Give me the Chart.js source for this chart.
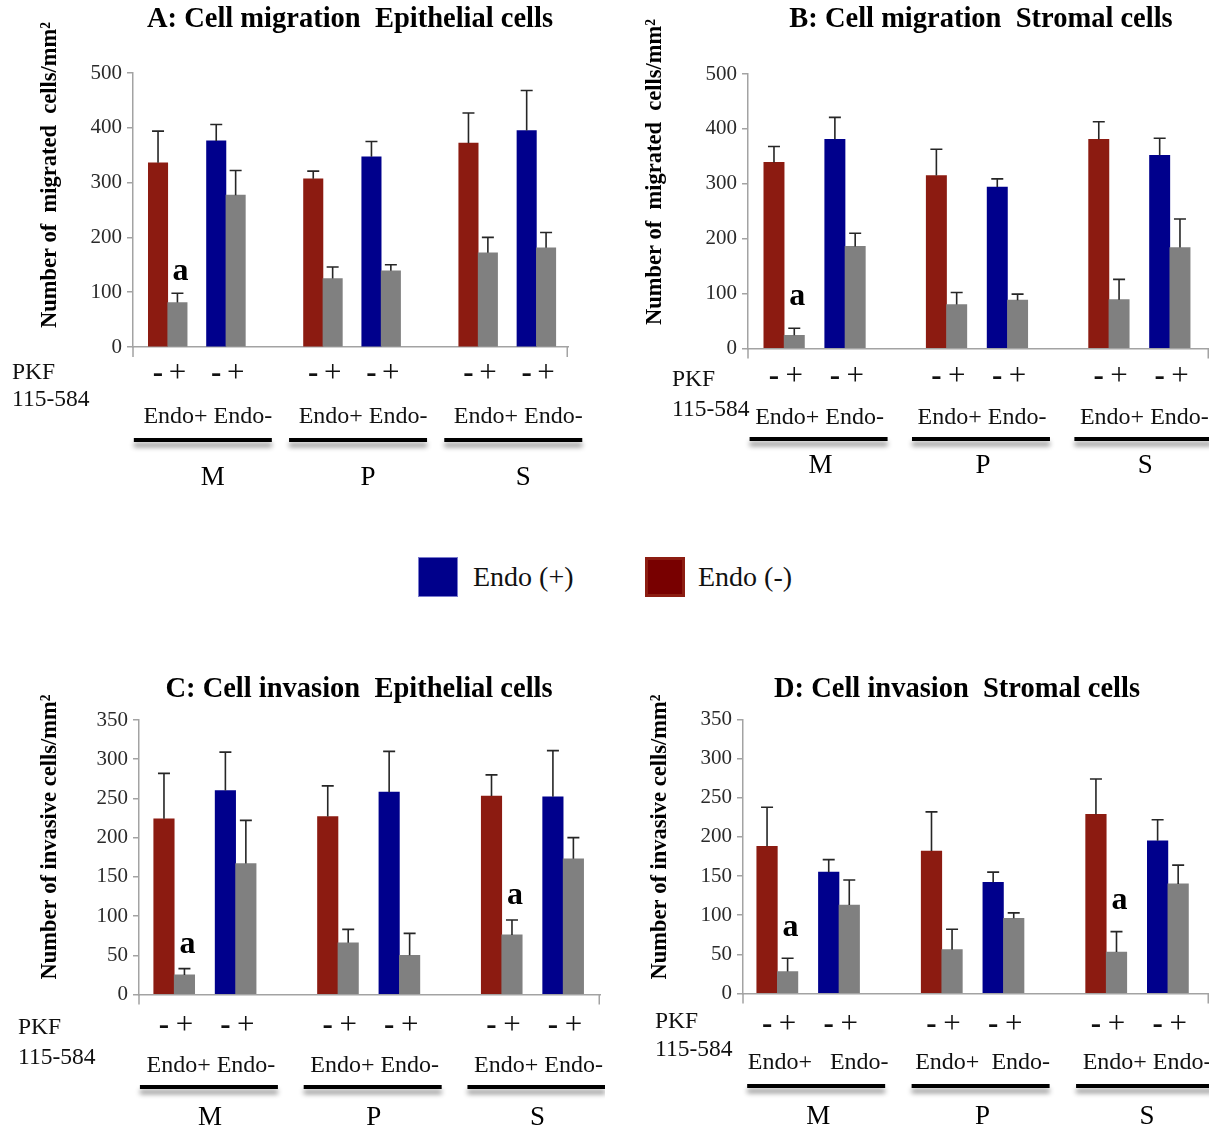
<!DOCTYPE html>
<html>
<head>
<meta charset="utf-8">
<script src="https://cdn.jsdelivr.net/npm/chart.js@4"></script>
<style>
html, body { margin: 0; padding: 0; background: #fff; width: 1209px; height: 1131px; overflow: hidden; }
canvas { position: absolute; }
.lg { position: absolute; font-family: "Liberation Serif", "Times New Roman", serif; font-size: 28px; color: #111; line-height: 40px; white-space: nowrap; }
.sw { position: absolute; width: 40px; height: 40px; box-sizing: border-box; }
</style>
</head>
<body>
<canvas id="cA"></canvas>
<canvas id="cB"></canvas>
<canvas id="cC"></canvas>
<canvas id="cD"></canvas>

<div class="sw" style="left:418px;top:557px;background:#00008b;border:1px solid #7a7acc;"></div>
<div class="lg" id="lgPlus" style="left:473px;top:557px;"></div>
<div class="sw" style="left:645px;top:557px;background:#780000;border:3px solid #8c1d12;"></div>
<div class="lg" id="lgMinus" style="left:698px;top:557px;"></div>

<script>
// ---------------- data ----------------
const groups = ['M', 'P', 'S'];
const conditions = ['Endo+', 'Endo-'];
const pkfLabels = ['-', '+'];
const legendLabels = ['Endo (+)', 'Endo (-)'];
const pkfName = ['PKF', '115-584'];

const yTicksMigration = [0, 100, 200, 300, 400, 500];
const yTicksInvasion = [0, 50, 100, 150, 200, 250, 300, 350];

// order: M Endo+, M Endo-, P Endo+, P Endo-, S Endo+, S Endo-
// A: cell migration, epithelial cells
const migEpiNoPkf = [336, 376, 307, 347, 372, 395];
const migEpiNoPkfSd = [58, 30, 14, 28, 55, 73];
const migEpiPkf = [81, 277, 125, 139, 172, 181];
const migEpiPkfSd = [17, 45, 21, 11, 28, 28];
const migEpiSig = ['a', '', '', '', '', ''];

// B: cell migration, stromal cells
const migStrNoPkf = [339, 381, 315, 294, 381, 352];
const migStrNoPkfSd = [29, 40, 48, 15, 32, 31];
const migStrPkf = [24, 186, 80, 88, 89, 184];
const migStrPkfSd = [13, 24, 22, 11, 37, 52];
const migStrSig = ['a', '', '', '', '', ''];

// C: cell invasion, epithelial cells
const invEpiNoPkf = [224, 260, 227, 258, 253, 252];
const invEpiNoPkfSd = [58, 49, 39, 52, 27, 59];
const invEpiPkf = [25, 167, 66, 50, 76, 173];
const invEpiPkfSd = [8, 55, 17, 28, 19, 27];
const invEpiSig = ['a', '', '', '', 'a', ''];

// D: cell invasion, stromal cells
const invStrNoPkf = [188, 155, 182, 142, 229, 195];
const invStrNoPkfSd = [50, 16, 50, 13, 45, 27];
const invStrPkf = [28, 113, 56, 96, 53, 140];
const invStrPkfSd = [17, 32, 26, 7, 26, 24];
const invStrSig = ['a', '', '', '', 'a', ''];

// ---------------- styles / layout ----------------
const SERIF = '"Liberation Serif", "Times New Roman", serif';
const COLOR_ENDO_PLUS_BAR = '#8c1b11';
const COLOR_ENDO_MINUS_BAR = '#00008c';
const COLOR_PKF = '#808080';
const AXIS = '#a3a3a3';

document.getElementById('lgPlus').textContent = legendLabels[0];
document.getElementById('lgMinus').textContent = legendLabels[1];

const panels = [
  { id: 'cA', title: 'A: Cell migration  Epithelial cells', yTitle: 'Number of  migrated  cells/mm\u00B2',
    noPkf: migEpiNoPkf, noSd: migEpiNoPkfSd, pkf: migEpiPkf, pkfSd: migEpiPkfSd, sig: migEpiSig, yTicks: yTicksMigration,
    box: { x: 0, y: 0, w: 605, h: 500 }, area: { left: 133, right: 568, top: 73, bottom: 347 }, padL: 1.29, padR: 1.13,
    tickPad: 8, sigDy: 22,
    titlePos: [350, 20], yTitlePos: [50, 175], pkfPos: [12, 373, 400],
    endoY: 417, endoDx: 11, endoSep: [' ', ' ', ' '], lineY: 440, lineDx: 6, letterY: 478, letterDx: 16 },
  { id: 'cB', title: 'B: Cell migration  Stromal cells', yTitle: 'Number of  migrated  cells/mm\u00B2',
    noPkf: migStrNoPkf, noSd: migStrNoPkfSd, pkf: migStrPkf, pkfSd: migStrPkfSd, sig: migStrSig, yTicks: yTicksMigration,
    box: { x: 605, y: 0, w: 604, h: 500 }, area: { left: 748, right: 1209, top: 74, bottom: 348.5 }, padL: 1.28, padR: 1.43,
    tickPad: 10, sigDy: 31,
    titlePos: [981, 20], yTitlePos: [655, 172], pkfPos: [672, 380, 410],
    endoY: 418, endoDx: 5, endoSep: [' ', ' ', ' '], lineY: 439, lineDx: 4, letterY: 466, letterDx: 6 },
  { id: 'cC', title: 'C: Cell invasion  Epithelial cells', yTitle: 'Number of invasive cells/mm\u00B2',
    noPkf: invEpiNoPkf, noSd: invEpiNoPkfSd, pkf: invEpiPkf, pkfSd: invEpiPkfSd, sig: invEpiSig, yTicks: yTicksInvasion,
    box: { x: 0, y: 660, w: 605, h: 471 }, area: { left: 139, right: 600, top: 720, bottom: 994.5 }, padL: 1.22, padR: 1.3,
    tickPad: 13, sigDy: 24,
    titlePos: [359, 690], yTitlePos: [50, 837], pkfPos: [18, 1028, 1058],
    endoY: 1066, endoDx: 6, endoSep: [' ', ' ', ' '], lineY: 1087, lineDx: 4, letterY: 1118, letterDx: 5 },
  { id: 'cD', title: 'D: Cell invasion  Stromal cells', yTitle: 'Number of invasive cells/mm\u00B2',
    noPkf: invStrNoPkf, noSd: invStrNoPkfSd, pkf: invStrPkf, pkfSd: invStrPkfSd, sig: invStrSig, yTicks: yTicksInvasion,
    box: { x: 605, y: 660, w: 604, h: 471 }, area: { left: 743, right: 1209, top: 719.5, bottom: 993.5 }, padL: 1.17, padR: 1.5,
    tickPad: 13, sigDy: 31,
    titlePos: [957, 690], yTitlePos: [660, 837], pkfPos: [655, 1022, 1050],
    endoY: 1063, endoDx: 10, endoSep: ['   ', '  ', ' '], lineY: 1086, lineDx: 8, letterY: 1117, letterDx: 10 }
];

function buildSlots(p) {
  const labels = [], values = [], colors = [], sds = [], sigs = [];
  const blank = () => { labels.push(''); values.push(null); colors.push('rgba(0,0,0,0)'); sds.push(null); sigs.push(''); };
  const groupSlots = [];
  groups.forEach((g, gi) => {
    const slots = [];
    conditions.forEach((c, ci) => {
      const k = gi * conditions.length + ci;
      if (ci > 0) blank();
      slots.push(labels.length);
      labels.push(pkfLabels[0]); values.push(p.noPkf[k]); sds.push(p.noSd[k]); sigs.push('');
      colors.push(ci === 0 ? COLOR_ENDO_PLUS_BAR : COLOR_ENDO_MINUS_BAR);
      slots.push(labels.length);
      labels.push(pkfLabels[1]); values.push(p.pkf[k]); sds.push(p.pkfSd[k]); sigs.push(p.sig[k]);
      colors.push(COLOR_PKF);
    });
    groupSlots.push(slots);
    if (gi < groups.length - 1) { blank(); blank(); blank(); }
  });
  return { labels, values, colors, sds, sigs, groupSlots };
}

function makePanel(p) {
  const cv = document.getElementById(p.id);
  const b = p.box;
  cv.width = b.w; cv.height = b.h;
  cv.style.left = b.x + 'px'; cv.style.top = b.y + 'px';
  cv.style.width = b.w + 'px'; cv.style.height = b.h + 'px';
  const s = buildSlots(p);
  const n = s.labels.length;
  const yW = 70, xH = 48;
  const padding = {
    left: p.area.left - b.x - yW,
    right: b.x + b.w - p.area.right,
    top: p.area.top - b.y,
    bottom: b.y + b.h - p.area.bottom - xH
  };

  const annot = {
    id: 'annot_' + p.id,
    afterDatasetsDraw(chart) {
      const ctx = chart.ctx, y = chart.scales.y, meta = chart.getDatasetMeta(0);
      const ca = chart.chartArea;
      ctx.save();
      // end tick marks of the category axis
      ctx.strokeStyle = AXIS;
      ctx.lineWidth = 1.5;
      ctx.beginPath();
      ctx.moveTo(ca.left, ca.bottom); ctx.lineTo(ca.left, ca.bottom + 10);
      ctx.moveTo(ca.right - 0.75, ca.bottom); ctx.lineTo(ca.right - 0.75, ca.bottom + 10);
      ctx.stroke();
      // error bars
      ctx.strokeStyle = '#262626';
      ctx.lineWidth = 1.6;
      meta.data.forEach((bar, i) => {
        if (s.values[i] == null) return;
        const top = y.getPixelForValue(s.values[i] + s.sds[i]);
        ctx.beginPath();
        ctx.moveTo(bar.x, bar.y);
        ctx.lineTo(bar.x, top);
        ctx.moveTo(bar.x - 6, top);
        ctx.lineTo(bar.x + 6, top);
        ctx.stroke();
        if (s.sigs[i]) {
          ctx.fillStyle = '#000';
          ctx.font = 'bold 32px ' + SERIF;
          ctx.textAlign = 'center';
          ctx.textBaseline = 'middle';
          ctx.fillText(s.sigs[i], bar.x + 3, top - p.sigDy);
        }
      });
      ctx.restore();
    },
    afterDraw(chart) {
      const ctx = chart.ctx, x = chart.scales.x;
      const ox = b.x, oy = b.y;
      ctx.save();
      ctx.fillStyle = '#000';
      ctx.textBaseline = 'middle';
      // title
      ctx.font = 'bold 28.5px ' + SERIF;
      ctx.textAlign = 'center';
      ctx.fillText(p.title, p.titlePos[0] - ox, p.titlePos[1] - oy);
      // y title
      ctx.save();
      ctx.translate(p.yTitlePos[0] - ox, p.yTitlePos[1] - oy);
      ctx.rotate(-Math.PI / 2);
      ctx.font = 'bold 22.5px ' + SERIF;
      ctx.fillText(p.yTitle, 0, 0);
      ctx.restore();
      // PKF label
      ctx.font = '23.5px ' + SERIF;
      ctx.textAlign = 'left';
      ctx.fillStyle = '#111';
      ctx.fillText(pkfName[0], p.pkfPos[0] - ox, p.pkfPos[1] - oy);
      ctx.fillText(pkfName[1], p.pkfPos[0] - ox, p.pkfPos[2] - oy);
      // group annotations
      s.groupSlots.forEach((slots, gi) => {
        const x0 = x.getPixelForValue(slots[0]);
        const x1 = x.getPixelForValue(slots[slots.length - 1]);
        const c = (x0 + x1) / 2;
        ctx.fillStyle = '#111';
        ctx.textAlign = 'center';
        ctx.font = '24px ' + SERIF;
        ctx.fillText(conditions.join(p.endoSep[gi]), c + p.endoDx, p.endoY - oy);
        // thick line with soft shadow
        ctx.save();
        ctx.shadowColor = 'rgba(0,0,0,0.45)';
        ctx.shadowBlur = 5;
        ctx.shadowOffsetY = 5;
        ctx.strokeStyle = '#000';
        ctx.lineWidth = 4;
        ctx.beginPath();
        ctx.moveTo(c + p.lineDx - 69, p.lineY - oy);
        ctx.lineTo(c + p.lineDx + 69, p.lineY - oy);
        ctx.stroke();
        ctx.restore();
        ctx.fillStyle = '#000';
        ctx.font = '27px ' + SERIF;
        ctx.fillText(groups[gi], c + p.letterDx, p.letterY - oy);
      });
      ctx.restore();
    }
  };

  new Chart(cv, {
    type: 'bar',
    data: {
      labels: s.labels,
      datasets: [{
        data: s.values,
        backgroundColor: s.colors,
        borderWidth: 0,
        barPercentage: 1,
        categoryPercentage: 1
      }]
    },
    options: {
      responsive: false,
      animation: false,
      devicePixelRatio: 1,
      layout: { padding },
      plugins: { legend: { display: false }, tooltip: { enabled: false }, title: { display: false } },
      scales: {
        x: {
          offset: false,
          grid: { display: false, drawTicks: false, tickLength: 0 },
          border: { display: true, color: AXIS, width: 1.5 },
          ticks: {
            autoSkip: false, maxRotation: 0, minRotation: 0, padding: p.tickPad, color: '#111',
            font: (c) => ({ family: SERIF, size: 31, weight: s.labels[c.index] === pkfLabels[0] ? 'bold' : 'normal' })
          },
          afterBuildTicks: (sc) => {
            // extend the axis a little beyond the first and last bars
            sc._startValue = -p.padL;
            sc._valueRange = (n - 1) + p.padL + p.padR;
          },
          afterFit: (sc) => { sc.height = xH; }
        },
        y: {
          min: p.yTicks[0],
          max: p.yTicks[p.yTicks.length - 1],
          afterBuildTicks: (sc) => { sc.ticks = p.yTicks.map(v => ({ value: v })); },
          grid: { drawOnChartArea: false, tickLength: 6, lineWidth: 1.5, color: AXIS },
          border: { color: AXIS, width: 1.5 },
          ticks: { padding: 5, color: '#2a2a2a', font: { family: SERIF, size: 21 } },
          afterFit: (sc) => { sc.width = yW; }
        }
      }
    },
    plugins: [annot]
  });
}

panels.forEach(makePanel);
</script>
</body>
</html>
